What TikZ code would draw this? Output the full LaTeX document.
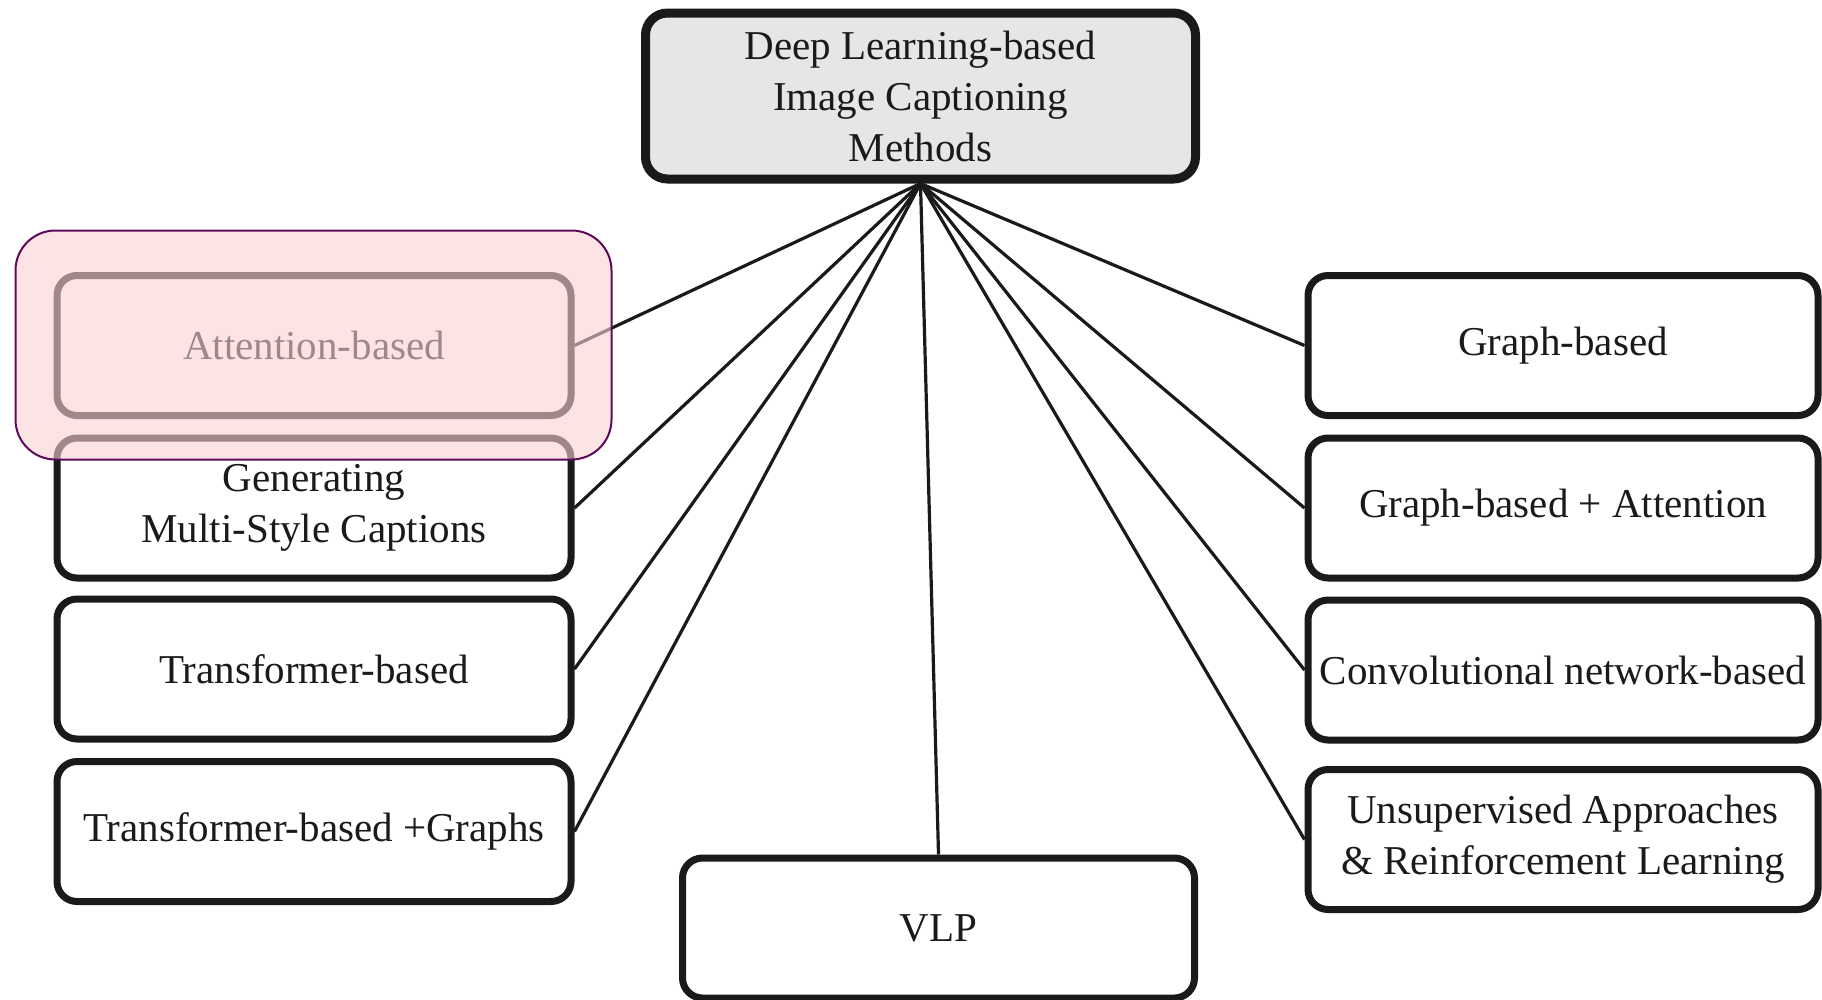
\documentclass[tikz,border=0pt]{standalone}
\usepackage{fontspec}
\setmainfont{Liberation Serif}
\usetikzlibrary{backgrounds}
\definecolor{inkc}{HTML}{1A1A1A}
\definecolor{rootfill}{HTML}{E6E6E6}
\definecolor{hlfill}{RGB}{252,210,210}
\definecolor{hldraw}{HTML}{5C0A5C}
\begin{document}
\begin{tikzpicture}[x=1pt,y=-1pt,
  catbox/.style={draw=inkc, line width=7pt, fill=white, rounded corners=20pt,
    minimum width=514pt, minimum height=140pt, inner sep=0pt, align=center,
    text=inkc, font=\fontsize{41}{51}\selectfont},
  rootbox/.style={catbox, fill=rootfill, line width=9pt, rounded corners=22pt,
    minimum width=550pt, minimum height=166pt},
  link/.style={draw=inkc, line width=3.2pt}]
\useasboundingbox (0,0) rectangle (1822,999);

% root of the taxonomy
\node[rootbox] (root) at (920.5,96) {Deep Learning-based\\Image Captioning\\Methods};

% left column
\node[catbox] (att)  at (314,345.5) {Attention-based};
\node[catbox] (gen)  at (314,508)   {Generating\\Multi-Style Captions};
\node[catbox] (tr)   at (314,669)   {Transformer-based};
\node[catbox] (trg)  at (314,831.5) {Transformer-based +Graphs};

% right column
\node[catbox, minimum width=510pt] (gr)   at (1563,345.5) {Graph-based};
\node[catbox, minimum width=510pt] (gra)  at (1563,508)   {Graph-based + Attention};
\node[catbox, minimum width=510pt] (conv) at (1563,670)   {Convolutional network-based};
\node[catbox, minimum width=510pt] (uns)  at (1563,839.5) {Unsupervised Approaches\\\& Reinforcement Learning};

% bottom
\node[catbox, minimum width=512pt, minimum height=140pt] (vlp) at (938.5,928) {VLP};

% connectors from the root to every category
\begin{pgfonlayer}{background}
  \foreach \n in {att,gen,tr,trg} \draw[link] (root.south) -- (\n.east);
  \foreach \n in {gr,gra,conv,uns} \draw[link] (root.south) -- (\n.west);
  \draw[link] (root.south) -- (vlp.north);
\end{pgfonlayer}

% translucent highlight over the first category
\node[draw=hldraw, line width=2pt, fill=hlfill, fill opacity=0.6,
  rounded corners=40pt, minimum width=596pt, minimum height=229pt, inner sep=0pt]
  (hl) at (313.5,345) {};
\end{tikzpicture}
\end{document}
